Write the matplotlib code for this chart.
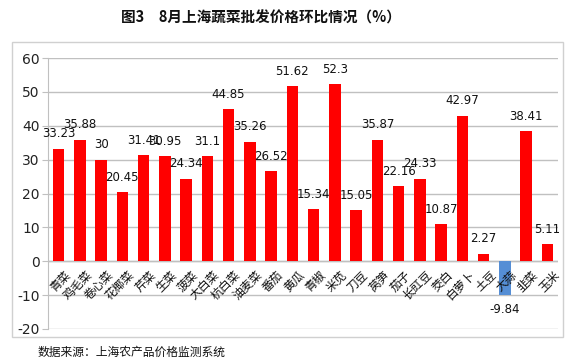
import matplotlib
matplotlib.use("Agg")
import matplotlib.pyplot as plt
from matplotlib.patches import Rectangle

plt.rcParams['font.family'] = ['Noto Sans CJK SC', 'DejaVu Sans']

categories = ['青菜', '鸡毛菜', '卷心菜', '花椰菜', '芹菜', '生菜', '菠菜', '大白菜',
              '杭白菜', '油麦菜', '番茄', '黄瓜', '青椒', '米苋', '刀豆', '莴笋',
              '茄子', '长豇豆', '茭白', '白萝卜', '土豆', '大蒜', '韭菜', '玉米']
values = [33.23, 35.88, 30, 20.45, 31.41, 30.95, 24.34, 31.1, 44.85, 35.26, 26.52,
          51.62, 15.34, 52.3, 15.05, 35.87, 22.16, 24.33, 10.87, 42.97, 2.27,
          -9.84, 38.41, 5.11]
value_labels = ['33.23', '35.88', '30', '20.45', '31.41', '30.95', '24.34', '31.1',
                '44.85', '35.26', '26.52', '51.62', '15.34', '52.3', '15.05', '35.87',
                '22.16', '24.33', '10.87', '42.97', '2.27', '-9.84', '38.41', '5.11']
yticks = [-20, -10, 0, 10, 20, 30, 40, 50, 60]

W, H = 573, 363
fig = plt.figure(figsize=(W / 100, H / 100), dpi=100)

# outer chart border
fig.patches.append(Rectangle((12 / W, 1 - 337 / H), (563 - 12) / W, (337 - 42) / H,
                             transform=fig.transFigure, fill=False,
                             edgecolor='#d0d0d0', linewidth=1.0))

ax = fig.add_axes([48 / W, 1 - 329 / H, (558 - 48) / W, (329 - 58) / H])
x = list(range(len(categories)))
colors = ['#ff0000' if v >= 0 else '#558ed5' for v in values]
ax.bar([i + 0.5 for i in x], values, width=0.55, color=colors, zorder=3)

ax.set_xlim(0, len(categories))
ax.set_ylim(-20, 60)
ax.set_yticks(yticks)
ax.set_yticklabels([str(t) for t in yticks], fontsize=10, color='#222222',
                   family=['DejaVu Sans'])
ax.set_xticks([])
ax.grid(axis='y', color='#c0c0c0', linewidth=1.0, zorder=0)
ax.axhline(0, color='#c0c0c0', linewidth=1.0, zorder=2)
for s in ['top', 'right', 'bottom']:
    ax.spines[s].set_visible(False)
ax.spines['left'].set_color('#c0c0c0')
ax.tick_params(axis='y', length=4, color='#c0c0c0', pad=2)

for i, (v, lab) in enumerate(zip(values, value_labels)):
    if v >= 0:
        ax.annotate(lab, (i + 0.5, v), xytext=(0, 6), textcoords='offset points',
                    ha='center', va='bottom', fontsize=8.5, color='#111111',
                    family=['DejaVu Sans'], zorder=5)
    else:
        ax.annotate(lab, (i + 0.5, v), xytext=(0, -6), textcoords='offset points',
                    ha='center', va='top', fontsize=8.5, color='#111111',
                    family=['DejaVu Sans'], zorder=5)

for i, c in enumerate(categories):
    ax.annotate(c, (i + 0.5, 0), xytext=(4, -5), textcoords='offset points',
                ha='right', va='top', rotation=45, rotation_mode='anchor',
                fontsize=8.5, color='#111111', zorder=6)

fig.text(0.455, 1 - 18 / H, '图3　8月上海蔬菜批发价格环比情况（%）', ha='center', va='center',
         fontsize=10.5, fontweight='bold', color='#111111')
fig.text(38 / W, 1 - 352 / H, '数据来源：上海农产品价格监测系统', ha='left', va='center',
         fontsize=8.5, color='#111111')

fig.savefig('out.png', dpi=100)
